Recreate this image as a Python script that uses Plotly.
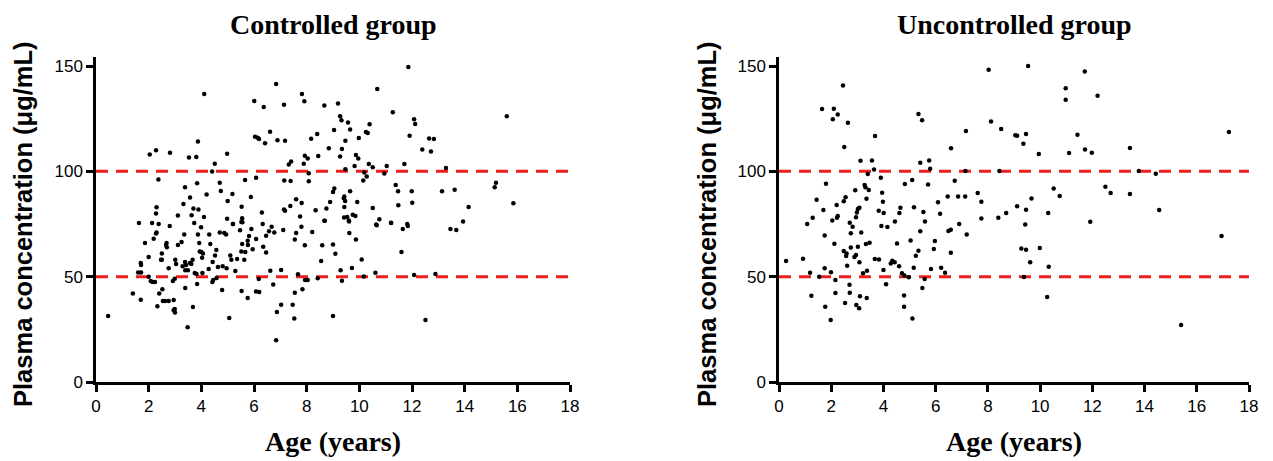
import plotly.graph_objects as go

# ---- Controlled group (age in years, plasma concentration ug/mL) ----
ctrl_age = [
 0.46,1.4,1.7,1.63,2.13,2.38,2.8,1.86,2.19,2.28,2.3,2.68,2.66,2.69,2.0,1.7,1.71,1.6,1.71,2.0,2.08,2.15,2.24,
 2.5,2.5,2.47,2.4,2.52,2.33,2.54,2.62,2.76,2.95,2.99,2.95,3.0,2.76,2.92,2.99,3.01,3.04,3.11,3.25,3.35,3.29,3.38,
 3.42,3.39,3.49,3.48,3.39,3.68,3.84,3.62,3.67,3.57,3.75,3.82,3.87,3.92,3.94,4.0,4.06,4.03,3.73,3.99,4.04,4.3,4.34,
 4.43,4.52,4.57,4.42,4.45,4.28,4.58,4.63,4.81,4.96,5.1,5.14,4.7,4.87,4.94,4.79,5.06,5.2,5.52,5.29,5.36,5.47,5.55,
 5.52,5.67,5.63,5.76,5.77,5.81,5.95,5.53,5.76,5.9,6.08,
 4.11,6.01,6.04,2.04,2.28,2.81,3.87,3.53,3.81,4.98,4.51,4.41,2.37,3.38,3.84,4.2,4.7,4.74,5.18,5.0,5.66,5.88,3.57,
 3.32,2.3,2.28,3.11,3.7,3.89,3.63,4.1,4.98,5.2,5.53,5.55,5.56,
 11.86,6.84,7.82,7.91,7.14,6.37,8.67,9.19,10.68,11.27,9.27,9.32,9.57,9.65,10.39,10.25,10.32,12.08,12.12,11.91,6.61,
 6.14,6.19,6.42,6.89,7.18,8.17,8.4,9.04,9.47,9.98,8.84,9.34,8.44,7.93,8.04,7.41,7.32,9.27,9.87,9.96,10.36,9.82,
 10.51,11.04,11.71,9.47,7.89,8.08,8.08,6.08,7.15,7.39,10.19,10.28,10.15,10.95,11.38,11.47,11.99,12.01,11.48,10.51,
 9.05,9.0,9.43,9.41,9.46,9.43,9.65,9.92,8.89,8.75,8.69,8.34,7.81,7.6,7.38,7.14,7.18,6.3,7.75,9.42,9.54,9.6,9.75,
 9.85,10.76,11.2,10.64,11.82,
 6.33,6.67,6.77,6.57,6.46,6.08,6.35,6.46,7.11,7.8,7.6,7.55,7.93,8.21,8.67,9.61,8.59,8.55,9.0,9.09,9.62,9.87,10.09,
 10.66,11.21,11.65,11.84,11.6,9.72,9.29,9.34,10.17,10.61,12.08,6.62,7.03,6.18,6.2,6.73,7.67,7.94,8.04,8.42,7.84,
 7.55,7.03,6.87,7.47,7.53,9.0,6.84,
 15.6,12.65,12.83,12.39,12.72,13.29,13.14,13.62,15.14,15.19,14.15,15.85,13.94,13.46,13.68,12.89,12.51,
]
ctrl_conc = [
 31.3,42,39,75.5,75.5,75,74,66,68,70.5,71,66,65,64,59.3,56.5,55.5,52,52,50,48,47.5,47.5,
 61,58,58,42,44,36,38.4,38.4,38.4,38.9,34.6,34,33,54,48,49,58,56,65,66.5,70,55,57,
 55.5,53,53,26,44.6,35.6,46.5,56,58,56.5,51.7,51.3,70,66,62,61.7,61,59,75.5,73.5,51.7,70,65.5,
 57,60,62.6,47.5,48.4,53.6,49.4,54.6,55,54,60,58,71,70.7,70,43.7,30.4,75,76,52.7,58.4,72,65.5,
 62,61.7,58,67,65,69.3,63,43.2,39.9,72.6,43,
 136.7,133.4,116.4,108,110,108.8,114.2,106.6,106.8,108.3,103.6,99.9,96.1,92.4,94.3,89,94.6,90.7,89.2,85.9,95.9,87.8,87.6,
 84.5,82.9,80,79,82.4,81.9,79.2,78.3,77.5,75,83.2,77.7,75.8,
 149.5,141.4,136.7,133.3,131.6,130.5,131.3,132.2,139.1,128,126.1,124.2,123.2,119.8,122.3,118.7,118.2,124.7,122.5,116.9,118.8,
 116,115.3,113.3,114.7,114.5,115.5,117.7,119.6,114.5,115.8,110.9,110.6,107.3,107.4,106.1,104.7,103.3,107.1,107.7,106.1,103.5,102.5,
 101.9,102.5,103.5,101,103.6,99.1,95.3,97,95.7,95.4,99.5,97.6,95.7,99,93.5,90.5,90.5,85.1,83.9,82.6,
 91.9,90.2,88.1,87.2,85.9,83.1,90.6,85.4,85.4,82.3,76.6,81.5,85,86.7,83.5,81.9,81.3,80.5,78.6,78.1,78.3,76.7,79.4,
 78.8,77.2,75.6,74.8,75,
 75,73.7,71,71.5,69.4,67.9,64.2,61.5,72.1,73.7,70.7,67.7,64.9,71.2,76.5,76.2,64.9,57.4,65.3,60.9,70.7,67.7,58.2,
 74.4,75.5,72.6,74,61.7,54.1,53.1,48.1,50.1,51.9,50.8,52.8,53.2,48.9,42.7,46.3,51.1,48.4,48.4,49.2,44,
 42.4,36.7,33.2,36.7,30.2,31.3,19.8,
 126.2,115.6,115.3,110.4,109.4,101.6,90.6,91.3,92.4,94.6,83.1,84.8,76.2,72.6,72.1,51.3,29.4,
]

# ---- Uncontrolled group ----
unc_age = [
 2.45,1.65,2.1,2.25,2.06,2.64,3.68,2.5,3.12,3.56,3.64,5.34,5.48,5.41,5.75,5.79,3.4,3.9,1.8,3.28,3.31,3.44,2.92,
 4.82,5.1,5.71,3.95,3.98,3.35,2.55,2.48,1.44,2.21,1.7,3.02,3.08,2.98,2.95,3.82,4.01,4.65,4.61,5.17,5.53,6.09,
 2.25,2.22,1.29,2.04,2.71,4.44,5.59,1.08,
 2.82,3.92,4.15,1.75,2.12,2.75,3.15,2.48,2.59,2.57,2.75,3.02,2.95,2.89,3.33,3.47,3.08,2.61,3.67,3.83,0.27,0.92,
 1.19,1.54,1.75,1.99,2.16,3.37,3.22,4.0,4.28,4.34,4.43,4.6,4.52,5.04,5.41,5.34,5.24,5.97,5.93,4.71,4.8,4.97,
 5.16,5.58,5.82,2.16,2.71,2.7,4.1,1.24,3.1,3.36,1.77,2.53,2.96,3.07,1.98,4.79,4.79,5.49,5.11,
 8.03,9.54,11.71,10.98,10.98,12.2,8.12,8.51,7.16,9.05,9.12,9.46,9.36,11.43,6.59,11.11,11.72,11.98,9.95,7.14,8.44,
 6.73,10.52,10.75,9.67,6.46,6.86,7.13,7.61,7.75,6.17,9.12,9.46,8.7,8.4,7.75,10.31,11.92,6.9,9.43,
 6.49,6.58,7.19,6.58,6.21,6.36,9.28,9.46,9.99,9.62,10.33,9.38,10.27,
 17.23,13.44,13.78,14.43,12.5,12.7,13.44,14.56,16.95,15.4,
]
unc_conc = [
 140.8,129.6,129.7,127,124.7,123.1,116.8,111.5,105,105.2,100.9,127.2,124.3,104.1,105.2,101.2,98.7,97,94.1,93.5,92.4,91.1,91,
 94,95.9,93.8,89.8,85.6,87,87.7,85.8,86.5,84,81.6,82.1,82.7,80.4,78.2,81.3,80.2,82.7,80.2,82.9,80.7,85.3,
 78.8,78,78,76.7,75.6,76.2,76.2,75,
 73.7,74,73.6,69.6,65.6,70.6,71,62.2,61,59.8,63.9,64.2,60.3,59.3,65.5,66.1,56.8,55.2,58.4,58.2,57.4,58.5,
 51.9,50,54,52.1,48.4,52.8,51.6,53.2,56.3,57.6,56.8,54.9,65.8,67.2,71.5,62.3,59.9,66.9,63.1,51.6,50.5,49.7,
 54.2,48.9,53.6,42.2,42.4,46.2,46.4,41,40.7,39.9,35.7,37.5,36.5,35,29.4,41.1,35.7,44.6,30.2,
 148.2,150,147.4,139.4,134,135.9,123.6,120.1,119.1,117.1,116.9,117.7,113.1,117.4,110.9,108.7,110.4,108.8,108.2,100.1,100.1,
 95.5,91.8,88.3,87.1,88,88,88,89.7,85.6,79.9,83.4,81.8,80.2,78,77.6,80.2,76.1,75,74.8,
 71.7,72.3,70,61.4,54.2,51.9,63.4,62.8,63.6,56.8,54.7,49.8,40.3,
 118.7,111.1,100.1,98.9,92.7,89.7,89.2,81.6,69.3,27,
]

x_ticks = [0, 2, 4, 6, 8, 10, 12, 14, 16, 18]
y_ticks = [0, 50, 100, 150]
ref_lines = [50, 100]
titles = ["Controlled group", "Uncontrolled group"]
x_title = "Age (years)"
y_title = "Plasma concentration (\u03bcg/mL)"

# the page places the figure 8px in from the top-left corner of the window
OFF = 8
W, H = 1273 - OFF, 461 - OFF

def px_x(p):
    return (p - OFF) / W

def px_y(p):
    return 1 - (p - OFF) / H

fig = go.Figure()

marker = dict(color="black", size=4.5)
fig.add_trace(go.Scatter(x=ctrl_age, y=ctrl_conc, mode="markers", marker=marker,
                         xaxis="x", yaxis="y", showlegend=False))
fig.add_trace(go.Scatter(x=unc_age, y=unc_conc, mode="markers", marker=marker,
                         xaxis="x2", yaxis="y2", showlegend=False))

left_dom = [px_x(96), px_x(570)]
right_dom = [px_x(779), px_x(1249)]
y_bottom_px, y_top_px = 382, 57
y_dom = [px_y(y_bottom_px), px_y(y_top_px)]
y_max = (y_bottom_px - y_top_px) / ((382 - 66) / 150)

tick_font = dict(family="Liberation Sans, Arial", size=17, color="black")
axis_common = dict(showline=True, linecolor="black", linewidth=2.5, ticks="outside",
                   ticklen=7, tickwidth=2.5, tickcolor="black", showgrid=False,
                   zeroline=False, tickfont=tick_font, mirror=False, automargin=False)

fig.update_layout(
    width=W, height=H, margin=dict(l=0, r=0, t=0, b=0, autoexpand=False),
    plot_bgcolor="white", paper_bgcolor="white",
    xaxis=dict(domain=left_dom, range=[0, 18], tickvals=x_ticks, anchor="y", **axis_common),
    yaxis=dict(domain=y_dom, range=[0, y_max], tickvals=y_ticks, anchor="x", **axis_common),
    xaxis2=dict(domain=right_dom, range=[0, 18], tickvals=x_ticks, anchor="y2", **axis_common),
    yaxis2=dict(domain=y_dom, range=[0, y_max], tickvals=y_ticks, anchor="x2", **axis_common),
)

for xr, yr in [("x", "y"), ("x2", "y2")]:
    for v in ref_lines:
        fig.add_shape(type="line", xref=xr, yref=yr, x0=0, x1=18, y0=v, y1=v,
                      line=dict(color="#ee1c1c", width=3, dash="12px,8px"), layer="below")

serif_bold = dict(family="Liberation Serif, Times New Roman", size=28, color="black")
sans_bold = dict(family="Liberation Sans, Arial", size=25.5, color="black")

for dom, t in zip([left_dom, right_dom], titles):
    cx = (dom[0] + dom[1]) / 2
    fig.add_annotation(text="<b>%s</b>" % t, x=cx, y=1, xref="paper", yref="paper",
                       showarrow=False, font=serif_bold, xanchor="center", yanchor="top",
                       borderpad=0)
    fig.add_annotation(text="<b>%s</b>" % x_title, x=cx, y=px_y(441), xref="paper", yref="paper",
                       showarrow=False, font=serif_bold, xanchor="center", yanchor="middle")

for p in [23, 707]:
    fig.add_annotation(text="<b>%s</b>" % y_title, x=px_x(p), y=px_y(224), xref="paper", yref="paper",
                       showarrow=False, font=sans_bold, textangle=-90, xanchor="center", yanchor="middle")

fig.write_html("out.html")
